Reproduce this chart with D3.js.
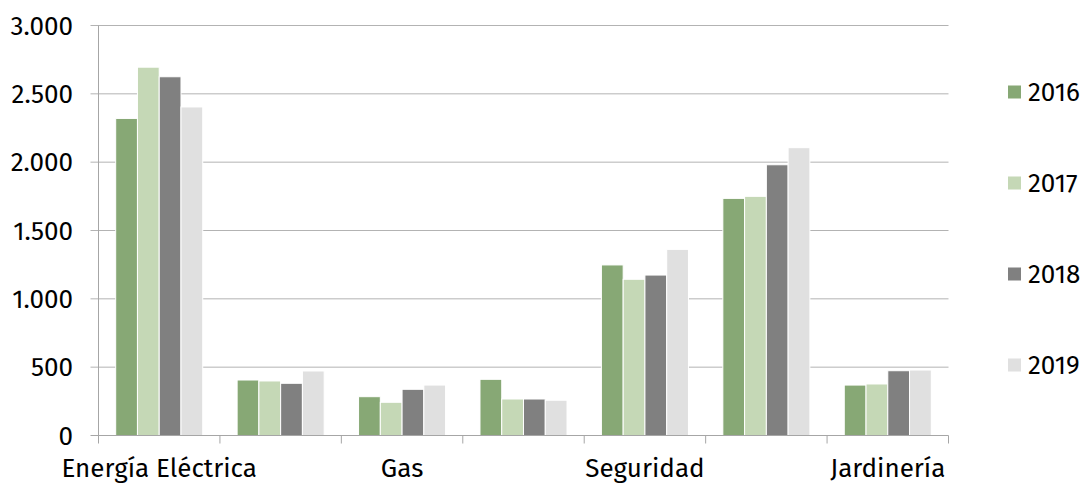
<!DOCTYPE html>
<html><head><meta charset="utf-8">
<script src="https://cdn.jsdelivr.net/npm/d3@7"></script>
<style>body{margin:0;background:#fff}svg text{font-family:"Fira Sans","Noto Sans",sans-serif;fill:#000}</style>
</head><body><svg id="c" width="1084" height="483"></svg>
<script>
const categories = ["Energía Eléctrica", "", "Gas", "", "Seguridad", "", "Jardinería"];
const years = ["2016", "2017", "2018", "2019"];
const v2016 = [2320, 406, 284, 411, 1248, 1735, 369];
const v2017 = [2695, 399, 243, 267, 1143, 1750, 377];
const v2018 = [2625, 382, 338, 267, 1174, 1981, 474];
const v2019 = [2404, 472, 369, 258, 1362, 2106, 479];
const yTicks = [0, 500, 1000, 1500, 2000, 2500, 3000];
const colors = ["#87a875", "#c5d8b6", "#808080", "#e0e0e0"];
const series = [v2016, v2017, v2018, v2019];

const svg = d3.select("#c");
const L = 98.5, R = 948.5, T = 25.5, B = 435.5;
const FS = 26;
const fmt = d => d3.format(",")(d).replace(/,/g, ".");
const x = d3.scaleBand().domain(d3.range(categories.length)).range([L, R]).paddingInner(0).paddingOuter(0);
const x1 = d3.scaleBand().domain(years).range([0, x.bandwidth()]).paddingOuter(0.79).paddingInner(0);
const y = d3.scaleLinear().domain([0, 3000]).range([B, T]);

// gridlines
svg.append("g").selectAll("line").data(yTicks.slice(1)).join("line")
  .attr("x1", L - 8).attr("x2", R).attr("y1", d => y(d)).attr("y2", d => y(d))
  .attr("stroke", "#b3b3b3").attr("stroke-width", 1);

// y labels
svg.append("g").selectAll("text").data(yTicks).join("text")
  .attr("x", 73).attr("y", d => y(d)).attr("dy", "0.35em").attr("text-anchor", "end")
  .attr("font-size", FS).text(fmt);

// bars
const g = svg.append("g");
series.forEach((s, i) => {
  g.selectAll(null).data(s).join("rect")
    .attr("x", (d, j) => x(j) + x1(years[i]))
    .attr("width", x1.bandwidth())
    .attr("y", d => y(d)).attr("height", d => B - y(d))
    .attr("fill", colors[i]).attr("stroke", "#fff").attr("stroke-width", 1);
});

// axes lines
svg.append("line").attr("x1", L).attr("x2", L).attr("y1", T).attr("y2", B).attr("stroke", "#a6a6a6");
svg.append("line").attr("x1", L - 8).attr("x2", R).attr("y1", B).attr("y2", B).attr("stroke", "#a6a6a6");
const bounds = d3.range(categories.length + 1).map(i => L + i * x.bandwidth());
svg.append("g").selectAll("line").data(bounds).join("line")
  .attr("x1", d => d).attr("x2", d => d).attr("y1", B).attr("y2", B + 8).attr("stroke", "#a6a6a6");

// category labels
svg.append("g").selectAll("text").data(categories).join("text")
  .attr("x", (d, i) => x(i) + x.bandwidth() / 2).attr("y", 477)
  .attr("text-anchor", "middle").attr("font-size", FS).text(d => d);

// legend
const leg = svg.append("g").selectAll("g").data(years).join("g")
  .attr("transform", (d, i) => `translate(1008,${92 + i * 91})`);
leg.append("rect").attr("x", 0).attr("y", -6.5).attr("width", 13).attr("height", 13)
  .attr("fill", (d, i) => colors[i]);
leg.append("text").attr("x", 20).attr("y", 0).attr("dy", "0.35em").attr("font-size", FS).text(d => d);
</script></body></html>
